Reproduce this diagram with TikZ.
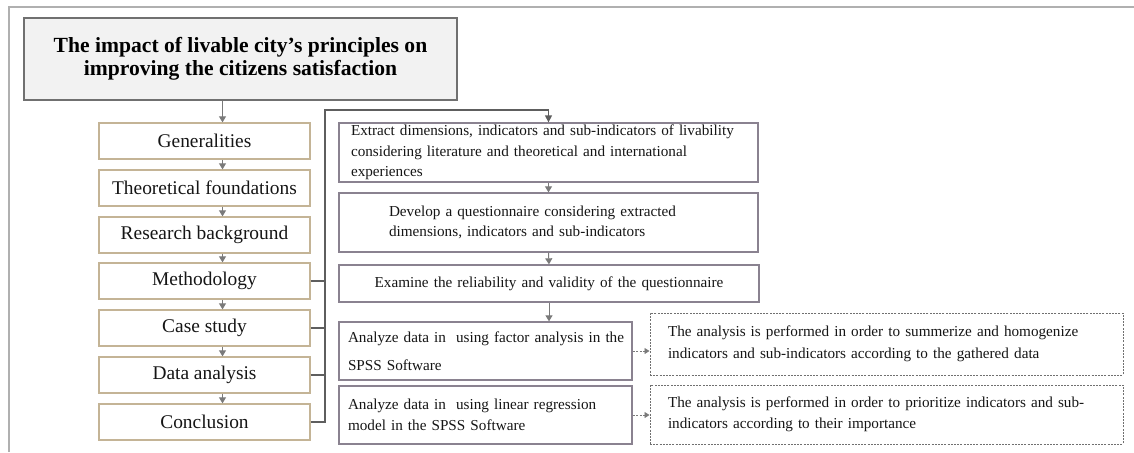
\documentclass[tikz,border=0pt]{standalone}
\usepackage{fontspec}
\setmainfont{Liberation Serif}
\usetikzlibrary{arrows.meta,calc}
\definecolor{framec}{HTML}{B0B0B0}
\definecolor{titlefill}{HTML}{F2F2F2}
\definecolor{titledraw}{HTML}{707070}
\definecolor{tanc}{HTML}{C4B496}
\definecolor{rboxc}{HTML}{8A8290}
\definecolor{dashc}{HTML}{707070}
\definecolor{arrc}{HTML}{7A7A7A}
\definecolor{brc}{HTML}{5E5E5E}
\definecolor{txt}{HTML}{151515}
\begin{document}
\begin{tikzpicture}[x=1pt,y=-1pt,
  titlebox/.style={draw=titledraw, fill=titlefill, line width=1.2pt, inner sep=0pt, align=center, text=black,
    font=\fontsize{21.6}{23.5}\selectfont\bfseries},
  leftbox/.style={draw=tanc, line width=1.3pt, minimum width=211pt, minimum height=36pt, inner sep=0pt, text=txt,
    font=\fontsize{19.4}{22}\selectfont},
  rbox/.style={draw=rboxc, line width=1.3pt, inner sep=0pt, text=txt, font=\fontsize{15.2}{20.5}\selectfont},
  dbox/.style={draw=dashc, dash pattern=on 2pt off 1.2pt, line width=1pt, inner sep=0pt, text=txt,
    font=\fontsize{15.2}{21.5}\selectfont},
  garrow/.style={draw=arrc, line width=1pt, -{Triangle[width=7pt,length=6pt]}},
  darrow/.style={draw=arrc, line width=0.9pt, dash pattern=on 2pt off 1.5pt, -{Triangle[width=6pt,length=5pt]}},
  bracket/.style={draw=brc, line width=1.3pt},
]
\useasboundingbox (0,0) rectangle (1134,452);
\draw[framec, line width=2pt] (9,452) -- (9,7) -- (1134,7);

% title
\node[titlebox, minimum width=433pt, minimum height=82pt] (title) at (240.5,59)
  {The impact of livable city's principles on\\improving the citizens satisfaction};

% left column
\node[leftbox] (gen)  at (204.5,141) {Generalities};
\node[leftbox] (theo) at (204.5,188) {Theoretical foundations};
\node[leftbox] (res)  at (204.5,235) {Research background};
\node[leftbox] (meth) at (204.5,281) {Methodology};
\node[leftbox] (case) at (204.5,328) {Case study};
\node[leftbox] (data) at (204.5,375) {Data analysis};
\node[leftbox] (conc) at (204.5,422) {Conclusion};

\coordinate (ax) at (222.5,0);
\draw[garrow] (title.south -| ax) -- (gen.north -| ax);
\draw[garrow] (gen.south -| ax) -- (theo.north -| ax);
\draw[garrow] (theo.south -| ax) -- (res.north -| ax);
\draw[garrow] (res.south -| ax) -- (meth.north -| ax);
\draw[garrow] (meth.south -| ax) -- (case.north -| ax);
\draw[garrow] (case.south -| ax) -- (data.north -| ax);
\draw[garrow] (data.south -| ax) -- (conc.north -| ax);

% right column
\node[rbox, minimum width=419pt, minimum height=59pt, text width=395pt, align=left] (ext) at (548.5,152.5)
  {Extract dimensions, indicators and sub-indicators of livability\\considering literature and theoretical and international\\experiences};
\node[rbox, minimum width=419pt, minimum height=59pt, text width=319pt, align=left] (dev) at (548.5,222.5)
  {Develop a questionnaire considering extracted\\dimensions, indicators and sub-indicators};
\node[rbox, minimum width=420pt, minimum height=37pt, text width=400pt, align=center] (exam) at (549,283.5)
  {Examine the reliability and validity of the questionnaire};
\node[rbox, minimum width=293pt, minimum height=58pt, text width=275pt, align=left] (an1) at (485.5,351)
  {\mbox{Analyze data in\ \ using factor analysis in the}\\[8pt]SPSS Software};
\node[rbox, minimum width=293pt, minimum height=58pt, text width=275pt, align=left] (an2) at (485.5,415)
  {\mbox{Analyze data in\ \ using linear regression}\\model in the SPSS Software};

\node[dbox, minimum width=473pt, minimum height=62pt, text width=437pt, align=left] (d1) at (886.5,344)
  {The analysis is performed in order to summerize and homogenize\\indicators and sub-indicators according to the gathered data};
\node[dbox, minimum width=473pt, minimum height=59pt, text width=437pt, align=left] (d2) at (886.5,414.5)
  {The analysis is performed in order to prioritize indicators and sub-\\indicators according to their importance};

% bracket
\coordinate (bx) at (325,110);
\draw[bracket] (meth.east) -- (meth.east -| bx);
\draw[bracket] (case.east) -- (case.east -| bx);
\draw[bracket] (data.east) -- (data.east -| bx);
\draw[bracket, -{Triangle[width=7pt,length=7pt]}] (conc.east) -- (conc.east -| bx) -- (bx) -- (bx -| ext.north) -- (ext.north);

% right arrows
\draw[garrow] (ext.south) -- (dev.north);
\draw[garrow] (dev.south) -- (exam.north);
\draw[garrow] (exam.south) -- (exam.south |- an1.north);
\draw[darrow] (an1.east) -- (an1.east -| d1.west);
\draw[darrow] (an2.east) -- (an2.east -| d2.west);
\end{tikzpicture}
\end{document}
